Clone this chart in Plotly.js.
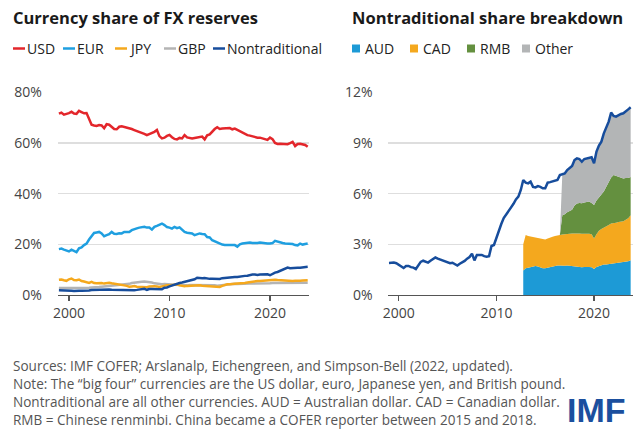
<!DOCTYPE html>
<html>
<head>
<meta charset="utf-8">
<script src="https://cdn.plot.ly/plotly-3.0.1.min.js"></script>
<style>html,body{margin:0;padding:0;background:#fff;}#chart{width:640px;height:435px;}</style>
</head>
<body>
<div id="chart"></div>
<script>
// ---------- DATA (quarterly, 1999Q1 - 2023Q4), percent of allocated reserves ----------
const startYear = 1999;
const USD = [
 71.6,72.0,71.2,71.4, 71.8,72.3,71.6,71.5, 72.7,72.2,71.7,71.8, 69.5,67.2,66.9,66.7,
 67.1,66.9,65.8,67.4, 67.2,66.3,65.5,65.4, 66.4,66.6,66.4,66.1, 65.8,65.5,65.1,64.8,
 64.4,64.0,63.6,63.1, 63.5,64.0,64.4,65.1, 62.7,61.8,62.1,62.8, 63.2,62.3,61.6,61.4,
 62.0,61.8,63.1,62.2, 62.0,61.8,62.0,62.2, 62.4,62.5,61.4,63.0, 63.4,64.5,65.5,66.2,
 65.5,65.7,65.8,65.9, 65.9,65.4,65.7,65.2, 64.7,64.0,63.5,63.1, 62.9,62.6,62.3,62.1,
 62.1,61.9,61.5,61.2, 62.1,61.5,60.0,59.6, 59.7,59.7,59.5,59.5, 59.9,60.4,58.8,59.6,
 59.7,59.4,59.2,58.5];
const EUR = [
 18.1,18.3,17.9,17.6, 17.2,17.9,17.3,16.9, 18.4,18.8,19.7,20.3, 21.9,23.2,24.5,24.7,
 24.9,24.3,23.2,23.6, 24.0,24.9,24.2,24.1, 24.4,24.3,24.9,24.9, 24.9,25.6,26.1,26.3,
 26.6,26.8,26.9,26.6, 26.6,25.8,26.9,27.3, 27.6,28.2,27.6,26.8, 26.6,26.2,26.9,26.4,
 26.7,25.6,24.9,24.6, 24.5,24.3,23.6,23.9, 24.3,24.1,24.0,22.9, 22.7,21.6,21.2,20.5,
 20.3,19.9,19.7,19.7, 19.7,19.7,19.7,19.1, 20.0,20.3,20.5,20.6, 20.7,20.5,20.4,20.5,
 20.7,20.5,20.3,20.3, 20.3,20.5,21.4,21.0, 20.7,20.5,20.3,20.3, 20.3,20.1,19.7,19.6,
 20.3,19.9,20.1,20.3];
const JPY = [
 6.0,6.1,5.8,5.6, 6.2,6.5,5.9,5.8, 6.1,5.5,5.3,5.1, 4.8,5.2,4.7,4.6,
 4.8,4.7,4.5,4.6, 4.8,4.6,4.5,4.4, 4.2,4.0,3.8,3.6, 3.3,3.4,3.5,3.3,
 3.2,3.1,2.9,3.1, 3.4,3.5,3.5,3.4, 3.2,3.4,3.7,3.8, 3.8,4.0,4.2,4.2,
 3.8,3.5,3.5,3.6, 3.7,3.8,3.8,3.8, 3.8,3.7,3.6,3.6, 3.6,3.6,3.5,3.4,
 3.2,3.6,4.0,4.2, 4.2,4.2,4.4,4.5, 4.5,4.6,4.7,4.9, 5.1,5.2,5.3,5.5,
 5.5,5.6,5.8,5.9, 6.0,6.1,6.0,5.9, 5.8,5.7,5.6,5.6, 5.5,5.5,5.6,5.5,
 5.6,5.7,5.7,5.8];
const GBP = [
 2.8,2.8,2.7,2.8, 2.8,2.7,2.8,2.8, 2.7,2.8,2.8,2.9, 2.9,3.0,3.0,3.1,
 3.2,3.3,3.4,3.5, 3.5,3.6,3.7,3.8, 3.8,3.9,4.0,4.1, 4.4,4.7,4.9,5.0,
 5.1,5.2,5.3,5.2, 5.1,4.9,4.6,4.4, 4.1,4.2,4.3,4.3, 4.2,4.1,4.0,3.9,
 3.9,3.8,3.8,3.8, 3.9,3.9,4.0,4.0, 4.0,3.9,3.9,3.9, 3.9,3.8,3.8,3.7,
 3.8,4.0,4.2,4.3, 4.4,4.5,4.4,4.3, 4.4,4.5,4.5,4.5, 4.5,4.5,4.5,4.4,
 4.5,4.6,4.6,4.6, 4.6,4.7,4.7,4.7, 4.7,4.8,4.8,4.8, 4.9,4.9,4.8,4.9,
 4.9,4.8,4.8,4.8];
const NONTRAD = [
 1.90,1.91,1.92,1.88, 1.80,1.70,1.60,1.72, 1.72,1.65,1.62,1.54, 1.75,1.96,2.03,1.95,
 1.92,2.03,2.15,2.22, 2.15,2.10,2.06,2.02, 1.95,1.88,1.91,1.80, 1.74,1.85,1.92,2.02,
 2.15,2.25,2.45,2.05, 2.37,2.36,2.37,2.30, 2.27,2.30,2.90,2.96, 3.40,3.75,4.20,4.55,
 4.75,4.93,5.20,5.40, 5.66,5.82,6.22,6.81, 6.65,6.61,6.71,6.40, 6.37,6.45,6.40,6.32,
 6.32,6.65,6.68,6.71, 6.75,6.81,7.10,7.15, 7.20,7.40,7.55,7.64, 7.99,8.09,8.05,7.89,
 8.05,8.09,8.12,8.15, 7.80,8.49,8.85,9.08, 9.57,9.91,10.26,10.80, 10.60,10.56,10.65,10.72,
 10.76,10.85,10.99,11.11];

// Breakdown (AUD, CAD from 2012Q4; RMB, Other from 2016Q4)
const AUD_CAD_START = "2012Q4";
const AUD = [1.45,
 1.58,1.62,1.66,1.70, 1.72,1.68,1.62,1.58, 1.58,1.62,1.65,1.70, 1.72,1.74,1.74,1.72,
 1.73,1.74,1.72,1.72, 1.70,1.68,1.66,1.65, 1.66,1.67,1.66,1.64, 1.54,1.66,1.72,1.78,
 1.80,1.80,1.82,1.84, 1.84,1.86,1.88,1.90, 1.92,1.96,2.00,2.06];
const CAD = [1.55,
 1.97,1.88,1.82,1.75, 1.69,1.70,1.72,1.72, 1.71,1.73,1.77,1.75, 1.77,1.76,1.81,1.86,
 1.88,1.88,1.91,1.92, 1.95,1.98,1.98,1.97, 1.97,1.96,1.96,1.96, 1.81,1.94,2.08,2.12,
 2.20,2.25,2.33,2.40, 2.40,2.42,2.44,2.44, 2.44,2.49,2.55,2.66];
const RMB_OTHER_START = "2016Q4";
const RMB = [1.14,
 1.17,1.28,1.37,1.41, 1.65,1.76,1.81,1.81, 1.85,1.87,1.91,1.85, 1.98,2.00,2.00,2.05,
 2.12,2.35,2.50,2.71, 2.86,2.77,2.66,2.58, 2.54,2.47,2.38,2.27];
const OTHER = [2.43,
 2.42,2.50,2.55,2.59, 2.69,2.67,2.60,2.46, 2.57,2.59,2.59,2.70, 2.47,2.89,3.05,3.13,
 3.45,3.51,3.61,3.85, 3.50,3.51,3.67,3.80, 3.86,3.93,4.06,4.12];

const yTicksLeft = [0, 20, 40, 60, 80];
const yTicksRight = [0, 3, 6, 9, 12];
const xTicks = [2000, 2010, 2020];

// ---------- helpers ----------
function qToYear(label){ const y = parseInt(label.slice(0,4)); const q = parseInt(label.slice(5)); return y + (q-1)*0.25; }
function quarterAxis(startLabel, n){ const s = qToYear(startLabel); const out=[]; for(let i=0;i<n;i++) out.push(s + i*0.25); return out; }
const xAll = quarterAxis(startYear + "Q1", USD.length);
const xAC = quarterAxis(AUD_CAD_START, AUD.length);
const xRO = quarterAxis(RMB_OTHER_START, RMB.length);

const W = 640, H = 435;
const px = v => v / W;
const py = v => 1 - v / H;

const FONT = "Open Sans, Noto Sans, Liberation Sans, sans-serif";

const C = {USD:"#e3262b", EUR:"#1f9fe0", JPY:"#f5a81d", GBP:"#b4b4b4", NT:"#174d9c",
           AUD:"#1d9ad6", CAD:"#f4a81e", RMB:"#64903f", OTHER:"#b3b5b6"};

function line(x, y, color, xa, ya){
  return {type:"scatter", mode:"lines", x:x, y:y, xaxis:xa, yaxis:ya,
          line:{color:color, width:2.5}, hoverinfo:"skip", showlegend:false};
}
function area(x, y, color){
  return {type:"scatter", mode:"lines", x:x, y:y, xaxis:"x2", yaxis:"y2", stackgroup:"nt",
          line:{width:0, color:color}, fillcolor:color, hoverinfo:"skip", showlegend:false};
}

const data = [
  line(xAll, GBP, C.GBP, "x", "y"),
  line(xAll, JPY, C.JPY, "x", "y"),
  line(xAll, NONTRAD, C.NT, "x", "y"),
  line(xAll, EUR, C.EUR, "x", "y"),
  line(xAll, USD, C.USD, "x", "y"),
  area(xAC, AUD, C.AUD),
  area(xAC, CAD, C.CAD),
  area(xRO, RMB, C.RMB),
  area(xRO, OTHER, C.OTHER),
  line(xAll, NONTRAD, C.NT, "x2", "y2")
];

const yDomain = [py(295), py(92.3)];
function xAxisCfg(domain, range, anchor){
  return {domain:domain, range:range, anchor:anchor, type:"linear",
    tickmode:"array", tickvals:xTicks, ticktext:xTicks.map(String),
    showgrid:false, zeroline:false,
    showline:true, linecolor:"#555", linewidth:1.2, ticks:"outside", ticklen:5, tickwidth:1.2,
    tickcolor:"#555", tickfont:{family:FONT, size:14, color:"#444"}, fixedrange:true, automargin:false};
}
function yAxisCfg(range, vals, anchor){
  return {domain:yDomain, range:range, anchor:anchor, type:"linear",
    tickmode:"array", tickvals:vals, ticktext:vals.map(v => v + "%"),
    showgrid:true, gridcolor:"#dedede", gridwidth:1.2, zeroline:false, showline:false,
    ticks:"outside", ticklen:12, tickwidth:1, tickcolor:"rgba(255,255,255,0)",
    tickfont:{family:FONT, size:14, color:"#444"}, fixedrange:true, automargin:false};
}

const annotations = [];
const shapes = [];
function txt(t, x, y, size, color, family){
  annotations.push({text:t, xref:"paper", yref:"paper", x:px(x), y:py(y),
    xanchor:"left", yanchor:"middle", showarrow:false, borderpad:0,
    font:{family:family || FONT, size:size, color:color}});
}
// titles
txt("<b>Currency share of FX reserves</b>", 12, 18, 16.5, "#1a1a1a");
txt("<b>Nontraditional share breakdown</b>", 351, 18, 16.5, "#1a1a1a");
// left legend (line samples)
const leftLegend = [["USD", C.USD, 13], ["EUR", C.EUR, 63], ["JPY", C.JPY, 115], ["GBP", C.GBP, 164], ["Nontraditional", C.NT, 213]];
leftLegend.forEach(([name, col, x0]) => {
  shapes.push({type:"line", xref:"paper", yref:"paper", x0:px(x0), x1:px(x0+12), y0:py(48.5), y1:py(48.5),
    line:{color:col, width:2.5}});
  txt(name, x0+13, 48.5, 14, "#222");
});
// right legend (squares)
const rightLegend = [["AUD", C.AUD, 352], ["CAD", C.CAD, 410], ["RMB", C.RMB, 467], ["Other", C.OTHER, 522]];
rightLegend.forEach(([name, col, x0]) => {
  shapes.push({type:"rect", xref:"paper", yref:"paper", x0:px(x0), x1:px(x0+8), y0:py(52.5), y1:py(44.5),
    line:{width:0}, fillcolor:col});
  txt(name, x0+12, 48.5, 14, "#222");
});
// notes
const notes = [
  "Sources: IMF COFER; Arslanalp, Eichengreen, and Simpson-Bell (2022, updated).",
  "Note: The “big four” currencies are the US dollar, euro, Japanese yen, and British pound.",
  "Nontraditional are all other currencies. AUD = Australian dollar. CAD = Canadian dollar.",
  "RMB = Chinese renminbi. China became a COFER reporter between 2015 and 2018."
];
notes.forEach((t, i) => txt(t, 12, 366 + i*18, 13.55, "#555"));
// logo
txt("<b>IMF</b>", 566, 410, 34, "#1b4f9e", "Liberation Sans, Arial, sans-serif");

const layout = {
  width:W, height:H, margin:{l:0, r:0, t:0, b:0}, paper_bgcolor:"#fff", plot_bgcolor:"#fff",
  showlegend:false, font:{family:FONT},
  xaxis:xAxisCfg([px(57.7), px(309.3)], [1998.88, 2023.91], "y"),
  yaxis:yAxisCfg([0, 80], yTicksLeft, "x"),
  xaxis2:xAxisCfg([px(388.3), px(633.3)], [1998.93, 2024.02], "y2"),
  yaxis2:yAxisCfg([0, 12], yTicksRight, "x2"),
  annotations:annotations, shapes:shapes
};

Plotly.newPlot("chart", data, layout, {displayModeBar:false, staticPlot:true});
</script>
</body>
</html>
